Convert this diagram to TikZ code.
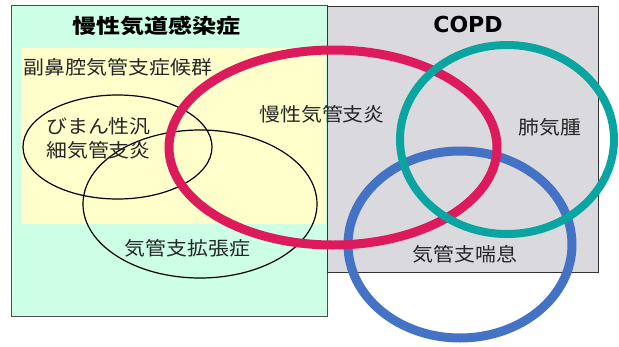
\documentclass[tikz,border=0pt]{standalone}
\usepackage{fontspec}
\usepackage{graphicx}
\newfontfamily\jp{Noto Sans CJK JP}
\newfontfamily\dvs{DejaVu Sans}
\definecolor{mint}{HTML}{CCFFE6}
\definecolor{paleyel}{HTML}{FFFFCC}
\definecolor{copdgray}{HTML}{D9D9DE}
\definecolor{crimson}{HTML}{DC1A5C}
\definecolor{tealc}{HTML}{0AA5A0}
\definecolor{bluec}{HTML}{4472C4}
\tikzset{
  lbl/.style={inner sep=0pt, font=\jp\fontsize{19}{19}\selectfont, text=black!85},
  ttl/.style={inner sep=0pt, font=\jp\bfseries\fontsize{20}{20}\selectfont},
  thinell/.style={draw=black, line width=1.2pt},
  fatell/.style={line width=9pt},
}
\newcommand{\wide}[2][1.1]{\scalebox{#1}[1]{#2}}
\begin{document}
\begin{tikzpicture}[x=1pt,y=-1pt]
\useasboundingbox (0,0) rectangle (619,346);
% areas
\draw[fill=mint, draw=black!70, line width=0.8pt] (11,5) rectangle (327,316);
\fill[paleyel] (21,48) rectangle (326,224);
\draw[fill=copdgray, draw=black!80, line width=0.8pt] (327,6) rectangle (598,272);
% titles
\node[ttl] (t1) at (156,26) {\wide[1.2]{慢性気道感染症}};
\node[inner sep=0pt, font=\dvs\bfseries\fontsize{22}{22}\selectfont] (t2) at (468,24) {COPD};
\node[lbl] (sbs) at (118,67) {\wide{副鼻腔気管支症候群}};
% black ellipses
\draw[thinell] (117.5,147) ellipse [x radius=94.5, y radius=52];
\draw[thinell] (200,204) ellipse [x radius=117, y radius=74];
% coloured ellipses
\draw[fatell, draw=bluec] (460,244.5) ellipse [x radius=112, y radius=93.5];
\draw[fatell, draw=crimson] (333,147.5) ellipse [x radius=164, y radius=97.5];
\draw[fatell, line width=8pt, draw=tealc] (507,139.5) ellipse [x radius=107, y radius=94.5];
% labels
\node[lbl] (dpb1) at (98.5,126) {\wide{びまん性汎}};
\node[lbl] (dpb2) at (98.5,150) {\wide{細気管支炎}};
\node[lbl] (be) at (187.5,248) {\wide{気管支拡張症}};
\node[lbl] (cb) at (322,114) {\wide{慢性気管支炎}};
\node[lbl] (emp) at (550,127) {\wide{肺気腫}};
\node[lbl] (asth) at (465,254) {\wide{気管支喘息}};
\end{tikzpicture}
\end{document}
